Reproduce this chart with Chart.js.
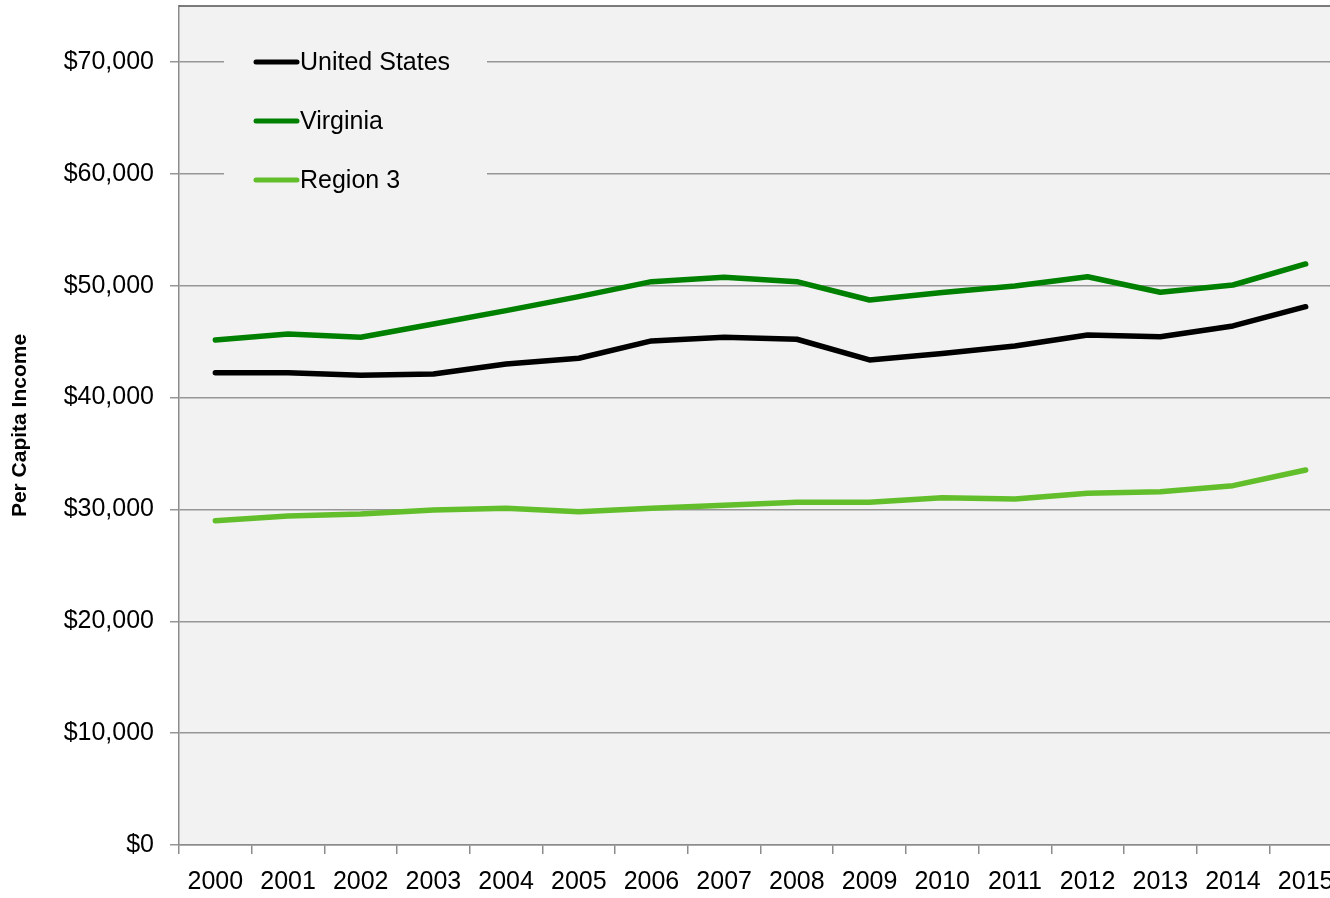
<!DOCTYPE html>
<html>
<head>
<meta charset="utf-8">
<script src="https://cdn.jsdelivr.net/npm/chart.js@4/dist/chart.umd.min.js"></script>
<style>
html,body{margin:0;padding:0;background:#fff;overflow:hidden;}
#wrap{width:1342px;height:898px;}
</style>
</head>
<body>
<div id="wrap"><canvas id="c" width="1342" height="898"></canvas></div>
<script>
const years = ['2000','2001','2002','2003','2004','2005','2006','2007','2008','2009','2010','2011','2012','2013','2014','2015'];
const unitedStates = [42220,42220,41990,42110,43000,43510,45060,45390,45210,43360,43940,44610,45590,45440,46400,48120];
const virginia = [45150,45680,45390,46580,47770,49020,50360,50750,50360,48720,49380,49970,50800,49410,50060,51940];
const region3 = [28990,29410,29590,29950,30100,29800,30100,30370,30640,30640,31040,30930,31440,31580,32120,33520];
const yTicks = [0,10000,20000,30000,40000,50000,60000,70000];
const seriesNames = ['United States','Virginia','Region 3'];
const seriesColors = ['#000000','#008000','#63BE2B'];

const FONT = '"Liberation Sans", Arial, sans-serif';

const bgPlugin = {
  id: 'bg',
  beforeDraw(chart) {
    const {ctx, chartArea: a} = chart;
    ctx.save();
    ctx.fillStyle = '#f2f2f2';
    ctx.fillRect(a.left, a.top, a.right - a.left, a.bottom - a.top);
    ctx.restore();
  },
  afterDraw(chart) {
    const {ctx, chartArea: a} = chart;
    ctx.save();
    ctx.strokeStyle = '#505050';
    ctx.lineWidth = 1.5;
    ctx.beginPath();
    ctx.moveTo(a.left, a.top);
    ctx.lineTo(a.right, a.top);
    ctx.stroke();
    ctx.fillStyle = '#f2f2f2';
    ctx.fillRect(224, 38, 263, 168);
    const ys = [62, 121, 180];
    chart.data.datasets.forEach((ds, i) => {
      ctx.strokeStyle = ds.borderColor;
      ctx.lineWidth = 5;
      ctx.lineCap = 'round';
      ctx.beginPath();
      ctx.moveTo(256, ys[i]);
      ctx.lineTo(297, ys[i]);
      ctx.stroke();
      ctx.fillStyle = '#000';
      ctx.font = '25px ' + FONT;
      ctx.textBaseline = 'middle';
      ctx.textAlign = 'left';
      ctx.fillText(ds.label, 300, ys[i] + 1);
    });
    ctx.restore();
  }
};

const seriesData = [unitedStates, virginia, region3];

new Chart(document.getElementById('c'), {
  type: 'line',
  data: {
    labels: years,
    datasets: seriesData.map((d, i) => ({
      label: seriesNames[i],
      data: d,
      borderColor: seriesColors[i],
      backgroundColor: seriesColors[i],
      borderWidth: 5.5,
      pointRadius: 0,
      tension: 0,
      borderCapStyle: 'round',
      borderJoinStyle: 'round'
    }))
  },
  options: {
    responsive: false,
    animation: false,
    devicePixelRatio: 1,
    layout: {padding: {top: 6, right: 0, bottom: 0, left: 0}},
    plugins: {legend: {display: false}, tooltip: {enabled: false}},
    scales: {
      x: {
        offset: true,
        grid: {display: true, drawOnChartArea: false, drawTicks: true, tickLength: 9, offset: true, color: '#8c8c8c', lineWidth: 1.5},
        border: {display: true, color: '#8c8c8c', width: 1.5},
        ticks: {color: '#000', font: {family: FONT, size: 25}, padding: 13, maxRotation: 0, autoSkip: false},
        afterFit(s) { s.height = 53; s.paddingLeft = 0; s.paddingRight = 0; }
      },
      y: {
        min: 0,
        max: 75000,
        afterBuildTicks(s) { s.ticks = yTicks.map(v => ({value: v})); },
        grid: {color: '#969696', lineWidth: 1.5, tickLength: 9},
        border: {display: true, color: '#8c8c8c', width: 1.5},
        ticks: {
          color: '#000', font: {family: FONT, size: 25}, padding: 16,
          callback: v => '$' + Number(v).toLocaleString('en-US')
        },
        title: {display: true, text: 'Per Capita Income', color: '#000', font: {family: FONT, size: 21, weight: 'bold'}, padding: {top: 8, bottom: 0}},
        afterFit(s) { s.width = 179; s.paddingTop = 0; s.paddingBottom = 0; }
      }
    }
  },
  plugins: [bgPlugin]
});
</script>
</body>
</html>
